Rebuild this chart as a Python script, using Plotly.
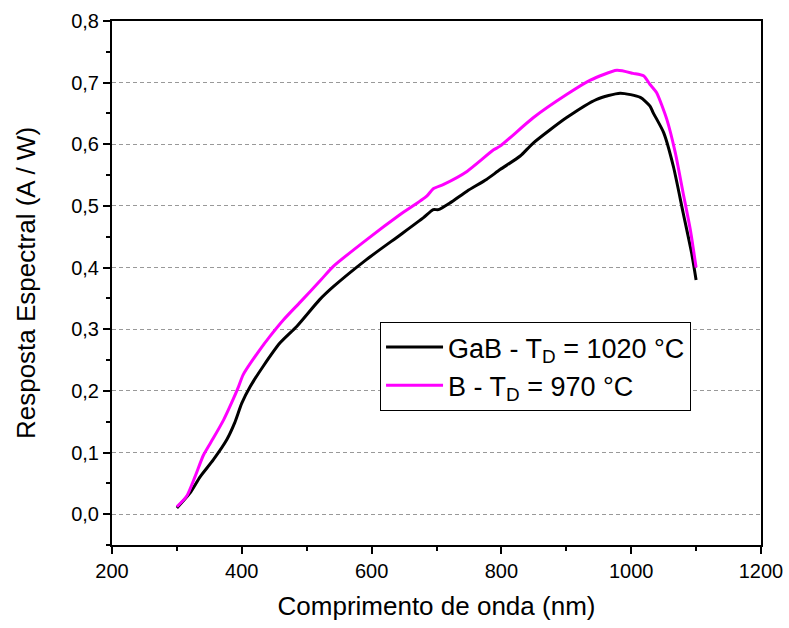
import plotly.graph_objects as go

# GaB - TD = 1020 °C (black)
gab_x = [300, 320, 336, 356, 377, 389, 400, 413, 433, 459, 485, 520, 541, 592, 644, 680, 695, 703,
         721, 747, 777, 798, 829, 849, 900, 947, 983, 1014, 1029, 1034, 1050, 1065, 1080, 1093, 1100]
gab_y = [0.010, 0.034, 0.061, 0.088, 0.121, 0.148, 0.180, 0.207, 0.240, 0.278, 0.305, 0.348, 0.369,
         0.413, 0.453, 0.481, 0.494, 0.494, 0.505, 0.524, 0.543, 0.559, 0.581, 0.602, 0.643, 0.673,
         0.683, 0.676, 0.662, 0.651, 0.619, 0.564, 0.489, 0.424, 0.380]

# B - TD = 970 °C (magenta)
b_x = [300, 315, 328, 341, 356, 372, 384, 395, 402, 428, 443, 464, 490, 521, 541, 592, 644, 685, 695,
       711, 747, 788, 798, 849, 901, 937, 978, 1003, 1019, 1029, 1039, 1055, 1068, 1080, 1091, 1100]
b_y = [0.012, 0.029, 0.061, 0.096, 0.123, 0.153, 0.180, 0.207, 0.226, 0.267, 0.288, 0.315, 0.344,
       0.379, 0.402, 0.445, 0.486, 0.516, 0.528, 0.535, 0.556, 0.591, 0.597, 0.643, 0.681, 0.704,
       0.720, 0.715, 0.711, 0.697, 0.684, 0.640, 0.586, 0.521, 0.462, 0.400]

names = ["GaB - T<sub>D</sub> = 1020 °C", "B - T<sub>D</sub> = 970 °C"]
colors = ["#000000", "#FF00FF"]

x_ticks = [200, 400, 600, 800, 1000, 1200]
y_ticks = [0.0, 0.1, 0.2, 0.3, 0.4, 0.5, 0.6, 0.7, 0.8]
y_ticklabels = ["0,0", "0,1", "0,2", "0,3", "0,4", "0,5", "0,6", "0,7", "0,8"]

FONT = "Arial, Liberation Sans, sans-serif"

fig = go.Figure()
for xs, ys, nm, c in [(gab_x, gab_y, names[0], colors[0]), (b_x, b_y, names[1], colors[1])]:
    fig.add_trace(go.Scatter(x=xs, y=ys, mode="lines", name=nm,
                             line=dict(color=c, width=3, shape="spline", smoothing=0.6)))

fig.update_layout(
    width=789, height=628,
    margin=dict(l=112, r=28, t=21, b=83),
    paper_bgcolor="white", plot_bgcolor="white",
    font=dict(family=FONT, size=20, color="black"),
    showlegend=True,
    legend=dict(x=0.413, y=0.4256, xanchor="left", yanchor="top",
                bordercolor="black", borderwidth=1, bgcolor="white",
                font=dict(family=FONT, size=27, color="black"),
                itemwidth=57, tracegroupgap=0),
)
fig.update_xaxes(
    range=[200, 1200], tickvals=x_ticks, ticktext=[str(v) for v in x_ticks],
    automargin=False, ticklabeloverflow="allow",
    showgrid=False, zeroline=False,
    showline=True, linecolor="black", linewidth=2, mirror=True,
    ticks="outside", ticklen=7, tickwidth=1.5, tickcolor="black",
    minor=dict(dtick=100, ticks="outside", ticklen=4, tickwidth=1.5, tickcolor="black", showgrid=False),
    title=dict(text="Comprimento de onda (nm)", font=dict(size=26), standoff=16),
    tickfont=dict(size=20),
)
fig.update_yaxes(
    range=[-0.05, 0.8], tickvals=y_ticks, ticktext=y_ticklabels,
    automargin=False, ticklabeloverflow="allow",
    showgrid=True, gridcolor="#999999", gridwidth=1, griddash="4px,3px",
    zeroline=False,
    showline=True, linecolor="black", linewidth=2, mirror=True,
    ticks="outside", ticklen=7, tickwidth=1.5, tickcolor="black",
    minor=dict(dtick=0.05, tick0=0, ticks="outside", ticklen=4, tickwidth=1.5, tickcolor="black", showgrid=False),
    title=dict(text="Resposta Espectral (A / W)", font=dict(size=26), standoff=28),
    tickfont=dict(size=20),
)

fig.write_html("out.html", config={"displayModeBar": False},
               post_script="document.body.style.margin='0px';")
